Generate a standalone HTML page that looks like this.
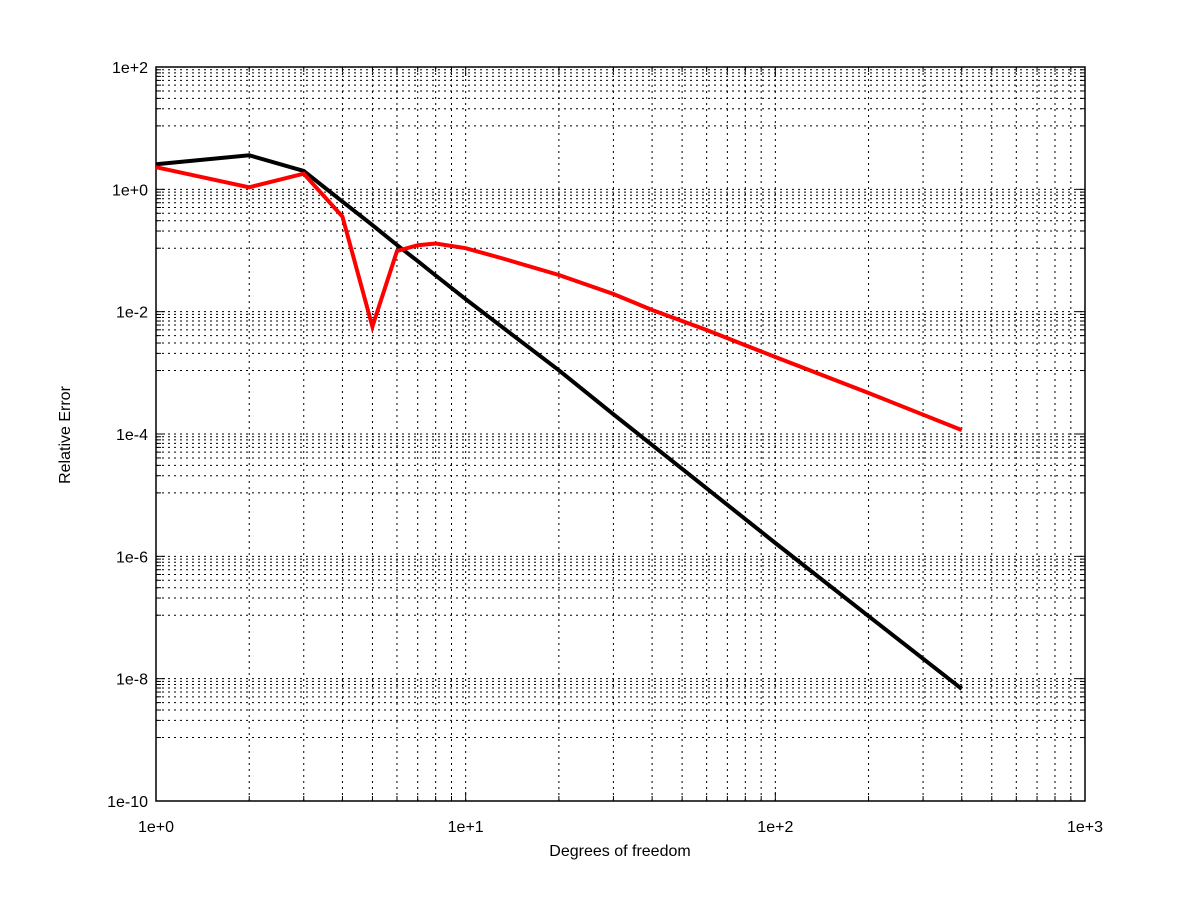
<!DOCTYPE html>
<html><head><meta charset="utf-8"><style>
html,body{margin:0;padding:0;background:#fff}
svg{display:block}
text{font-family:"Liberation Sans",sans-serif;font-size:16px;fill:#000}
</style></head><body>
<svg id="chart" width="1200" height="900"></svg>
<script>
const blackX = [1,2,3,4,5,6,7,8,10,20,30,50,100,200,400];
const blackY = [2.58,3.6,2.0,0.63,0.26,0.123,0.067,0.039,0.016,1.1e-3,2.1e-4,2.7e-5,1.65e-6,1.05e-7,6.8e-9];
const redX = [1,2,3,4,5,6,7,8,10,13,20,30,40,50,60,100,200,300,400];
const redY = [2.3,1.08,1.8,0.36,0.0057,0.098,0.122,0.13,0.109,0.0755,0.0398,0.01945,0.01064,0.00704,0.00501,0.001815,4.68e-4,2.07e-4,1.16e-4];
const xTickExp = [0,1,2,3];
const xTickLabels = ["1e+0","1e+1","1e+2","1e+3"];
const yTickExp = [-10,-8,-6,-4,-2,0,2];
const yTickLabels = ["1e-10","1e-8","1e-6","1e-4","1e-2","1e+0","1e+2"];

const L=156,R=1085,T=67,B=801;
const sx=v=>L+Math.log10(v)/3*(R-L);
const sy=v=>B-(Math.log10(v)+10)/12*(B-T);
const NS="http://www.w3.org/2000/svg";
const svg=document.getElementById('chart');
function mk(tag,attrs,parent){const e=document.createElementNS(NS,tag);for(const k in attrs)e.setAttribute(k,attrs[k]);(parent||svg).appendChild(e);return e;}

const grid=mk('g',{});


const ticks=mk('g',{});


for(let d=0;d<3;d++)for(let m=1;m<=9;m++){
  const x=sx(m*Math.pow(10,d)); const len=m===1?9:5;
  if(!(d===0&&m===1)) mk('line',{x1:x,x2:x,y1:T,y2:B,stroke:'#000','stroke-width':1,'stroke-dasharray':'2,4'},grid);
  mk('line',{x1:x,x2:x,y1:B,y2:B-len,stroke:'#000'},ticks);
  mk('line',{x1:x,x2:x,y1:T,y2:T+len,stroke:'#000'},ticks);
}
for(let d=-10;d<2;d+=2){
  const lo=Math.pow(10,d), hi=Math.pow(10,d+2);
  for(let k=0;k<10;k++){
    const v=lo+k*(hi-lo)/10;
    const y=sy(v); const len=k===0?9:5;
    if(!(d===-10&&k===0)) mk('line',{x1:L,x2:R,y1:y,y2:y,stroke:'#000','stroke-width':1,'stroke-dasharray':'2,4'},grid);
    mk('line',{x1:L,x2:L+len,y1:y,y2:y,stroke:'#000'},ticks);
    mk('line',{x1:R,x2:R-len,y1:y,y2:y,stroke:'#000'},ticks);
  }
}
const frame=mk('rect',{x:L,y:T,width:R-L,height:B-T,fill:'none',stroke:'#000','stroke-width':1.5});



xTickExp.forEach((e,i)=>{
  const t=mk('text',{x:sx(Math.pow(10,e)),y:B+31,'text-anchor':'middle'});
  t.textContent=xTickLabels[i];
  
  
});
yTickExp.forEach((e,i)=>{
  const t=mk('text',{x:L-8,y:sy(Math.pow(10,e))+6,'text-anchor':'end'});
  t.textContent=yTickLabels[i];
  
  
});
const xt=mk('text',{x:620,y:856,'text-anchor':'middle'});
xt.textContent='Degrees of freedom';


const yt=mk('text',{x:0,y:0,'text-anchor':'middle',transform:'translate(70,435) rotate(-90)'});
yt.textContent='Relative Error';



function series(xs,ys,color,name){
  const p=xs.map((x,i)=>sx(x).toFixed(1)+','+sy(ys[i]).toFixed(1)).join(' ');
  const l=mk('polyline',{points:p,fill:'none',stroke:color,'stroke-width':4,'stroke-linejoin':'miter'});
  
  
}
series(blackX,blackY,'#000','series-black');
series(redX,redY,'#f00','series-red');
</script>
</body></html>
